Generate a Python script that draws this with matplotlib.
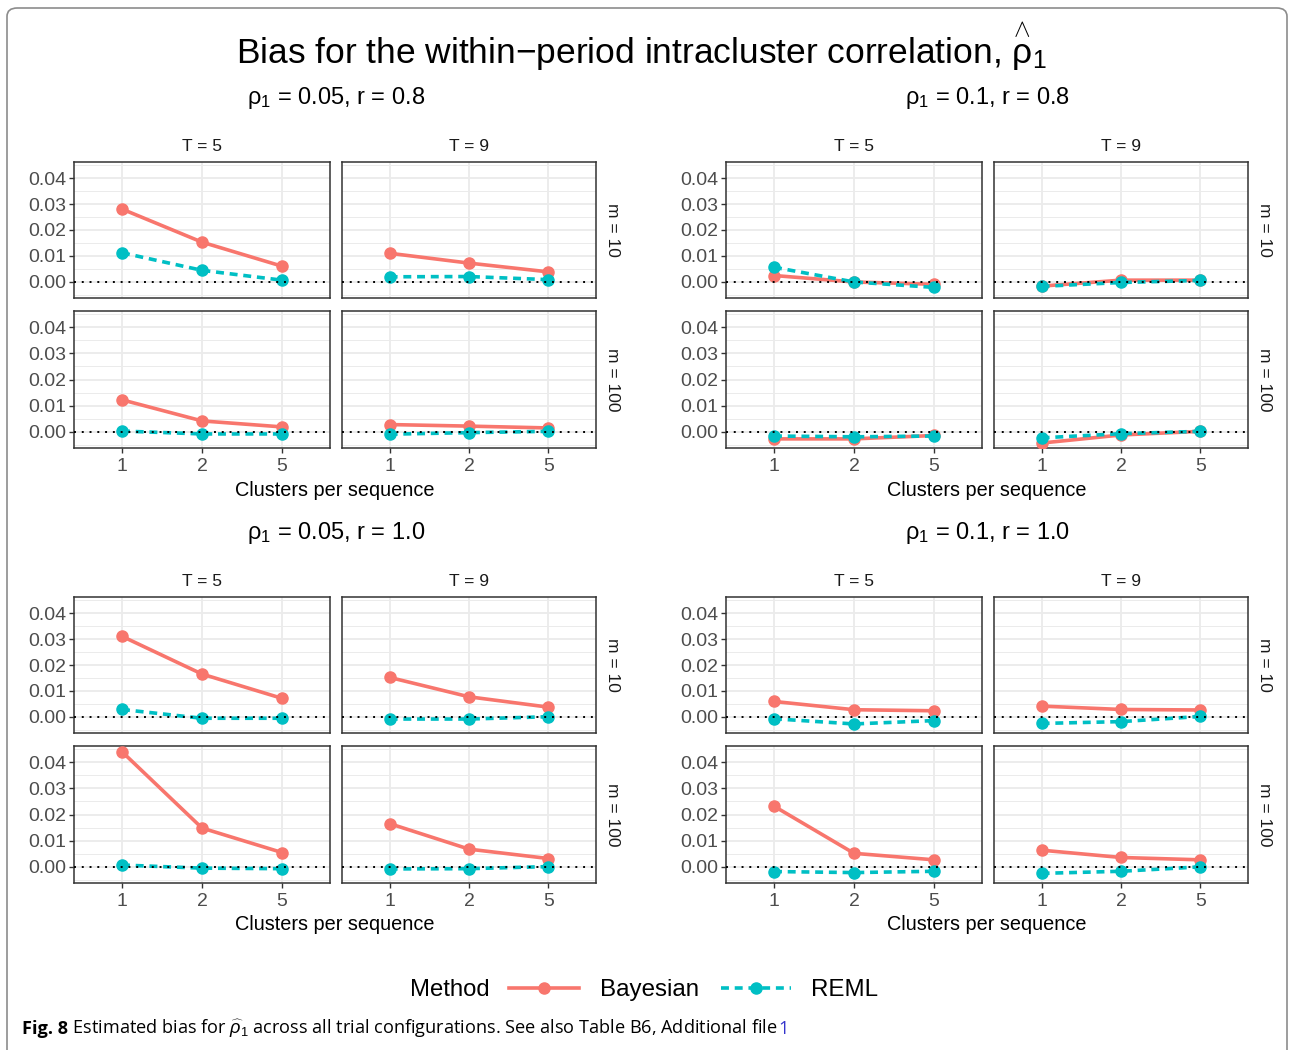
import numpy as np
import matplotlib.pyplot as plt
from matplotlib.lines import Line2D
from matplotlib.patches import FancyBboxPatch

plt.rcParams['font.family'] = ['Liberation Sans', 'DejaVu Sans']
plt.rcParams['mathtext.fontset'] = 'custom'
plt.rcParams['mathtext.rm'] = 'Liberation Sans'
plt.rcParams['mathtext.it'] = 'Liberation Sans:italic'
plt.rcParams['mathtext.bf'] = 'Liberation Sans:bold'

# ---- data (bias) ----
clusters = ['1', '2', '5']
T_labels = ['T = 5', 'T = 9']
m_labels = ['m = 10', 'm = 100']
scenario_titles = ['\u03c1$_1$ = 0.05, r = 0.8', '\u03c1$_1$ = 0.1, r = 0.8',
                   '\u03c1$_1$ = 0.05, r = 1.0', '\u03c1$_1$ = 0.1, r = 1.0']

# each: [m=10: [T=5, T=9], m=100: [T=5, T=9]]
bayes_rho005_r08 = [[[0.0281, 0.0153, 0.0060], [0.0110, 0.0072, 0.0038]],
                    [[0.0122, 0.0041, 0.0018], [0.0027, 0.0021, 0.0014]]]
reml_rho005_r08 = [[[0.0112, 0.0044, 0.0006], [0.0019, 0.0020, 0.0008]],
                   [[0.0002, -0.0009, -0.0009], [-0.0010, -0.0004, 0.0001]]]

bayes_rho01_r08 = [[[0.0024, -0.0001, -0.0010], [-0.0017, 0.0006, 0.0006]],
                   [[-0.0028, -0.0028, -0.0015], [-0.0044, -0.0013, 0.0001]]]
reml_rho01_r08 = [[[0.0056, -0.0001, -0.0022], [-0.0018, -0.0003, 0.0005]],
                  [[-0.0017, -0.0020, -0.0017], [-0.0024, -0.0008, 0.0001]]]

bayes_rho005_r10 = [[[0.0311, 0.0165, 0.0071], [0.0152, 0.0077, 0.0037]],
                    [[0.0441, 0.0148, 0.0054], [0.0165, 0.0067, 0.0031]]]
reml_rho005_r10 = [[[0.0028, -0.0006, -0.0006], [-0.0009, -0.0009, 0.0000]],
                   [[0.0006, -0.0006, -0.0008], [-0.0009, -0.0008, 0.0000]]]

bayes_rho01_r10 = [[[0.0059, 0.0027, 0.0023], [0.0041, 0.0028, 0.0026]],
                   [[0.0232, 0.0051, 0.0026], [0.0063, 0.0035, 0.0026]]]
reml_rho01_r10 = [[[-0.0008, -0.0028, -0.0015], [-0.0026, -0.0019, 0.0001]],
                  [[-0.0019, -0.0023, -0.0018], [-0.0026, -0.0018, -0.0001]]]

bayes_all = [bayes_rho005_r08, bayes_rho01_r08, bayes_rho005_r10, bayes_rho01_r10]
reml_all = [reml_rho005_r08, reml_rho01_r08, reml_rho005_r10, reml_rho01_r10]

BAYES_C = '#F8766D'
REML_C = '#00BFC4'
W, H = 1289, 1050

fig = plt.figure(figsize=(W / 100, H / 100), dpi=100)


def fx(x):
    return x / W


def fy(y):
    return 1 - y / H


def box(x0, y0, x1, y1):
    return [x0 / W, 1 - y1 / H, (x1 - x0) / W, (y1 - y0) / H]


col_px = [(74, 330), (342, 596)]
row_px = [(162, 298), (311, 448)]
block_off = [(0, 0), (652, 0), (0, 435), (652, 435)]
xpos = np.arange(1, len(clusters) + 1)

for k, (bx, by) in enumerate(block_off):
    for i in range(2):      # m rows
        for j in range(2):  # T cols
            x0, x1 = col_px[j]
            y0, y1 = row_px[i]
            ax = fig.add_axes(box(x0 + bx, y0 + by, x1 + bx, y1 + by))
            ax.plot(xpos, bayes_all[k][i][j], color=BAYES_C, lw=2.6, marker='o',
                    ms=8, mec=BAYES_C, zorder=3, solid_capstyle='butt')
            ax.plot(xpos, reml_all[k][i][j], color=REML_C, lw=2.6, ls=(0, (2.2, 1.6)),
                    marker='o', ms=8, mec=REML_C, zorder=4)
            ax.axhline(0, color='black', lw=1.4, ls=(0, (1, 3)), zorder=5)
            ax.set_xlim(0.4, 3.6)
            ax.set_ylim(-0.0063, 0.0463)
            ax.set_yticks([0, 0.01, 0.02, 0.03, 0.04])
            ax.set_yticks(np.arange(-0.005, 0.046, 0.01), minor=True)
            ax.set_xticks(xpos)
            ax.set_xticklabels(clusters)
            ax.set_yticklabels(['0.00', '0.01', '0.02', '0.03', '0.04'])
            ax.grid(True, which='major', color='#EBEBEB', lw=1.3, zorder=0)
            ax.grid(True, which='minor', axis='y', color='#EBEBEB', lw=0.7, zorder=0)
            ax.set_axisbelow(True)
            for s in ax.spines.values():
                s.set_color('#333333')
                s.set_linewidth(1.1)
            ax.tick_params(which='major', length=3.5, width=1, color='#333333',
                           labelsize=14, labelcolor='#4D4D4D', pad=2)
            ax.tick_params(axis='x', pad=4)
            ax.tick_params(which='minor', length=0)
            if j == 1:
                ax.tick_params(axis='y', length=0, labelleft=False)
            if i == 0:
                ax.tick_params(axis='x', length=0, labelbottom=False)
                ax.set_title(T_labels[j], fontsize=12.5, color='#1A1A1A', pad=8)
            if j == 1:
                fig.text(fx(612 + bx), fy((y0 + y1) / 2 + by), m_labels[i], rotation=270,
                         ha='center', va='center', fontsize=12.5, color='#1A1A1A')
    fig.text(fx(336 + bx), fy(98 + by), scenario_titles[k], ha='center', va='center',
             fontsize=17)
    fig.text(fx(335 + bx), fy(490 + by), 'Clusters per sequence', ha='center',
             va='center', fontsize=14.3)

fig.text(fx(641), fy(47), 'Bias for the within\u2212period intracluster correlation, '
         r'$\overset{\wedge}{\mathrm{\rho}}_1$', ha='center', va='center', fontsize=25.5)

# legend
fig.text(fx(410), fy(990), 'Method', ha='left', va='center', fontsize=17.2)
handles = [Line2D([], [], color=BAYES_C, lw=2.6, marker='o', ms=8),
           Line2D([], [], color=REML_C, lw=2.6, ls=(0, (2.2, 1.6)), marker='o', ms=8)]
fig.legend(handles, ['Bayesian', 'REML'], loc='center left',
           bbox_to_anchor=(fx(509), fy(990)), ncol=2, frameon=False, fontsize=17.4,
           handlelength=2.9, handletextpad=0.85, columnspacing=0.9,
           borderpad=0, borderaxespad=0)

# caption, pieces placed one after another on a common baseline
cap_parts = [('Fig. 8', 'bold', 'black'),
             (' Estimated bias for $\\widehat{\\rho}_1$ across all trial configurations. '
              'See also Table B6, Additional file ', 'normal', 'black'),
             ('1', 'normal', '#3333CC')]
renderer = fig.canvas.get_renderer()
xc = 22
for txt, wt, colr in cap_parts:
    t = fig.text(fx(xc), fy(1034), txt, fontsize=13.1, fontweight=wt,
                 family='Open Sans', va='baseline', ha='left', color=colr)
    xc += t.get_window_extent(renderer).width

frame = FancyBboxPatch((fx(7), -0.05), fx(1287) - fx(7), fy(8) + 0.05,
                       boxstyle='round,pad=0,rounding_size=0.008',
                       transform=fig.transFigure, fill=False, ec='#8C8C8C', lw=1.2)
fig.patches.append(frame)

fig.savefig('out.png', dpi=100)
